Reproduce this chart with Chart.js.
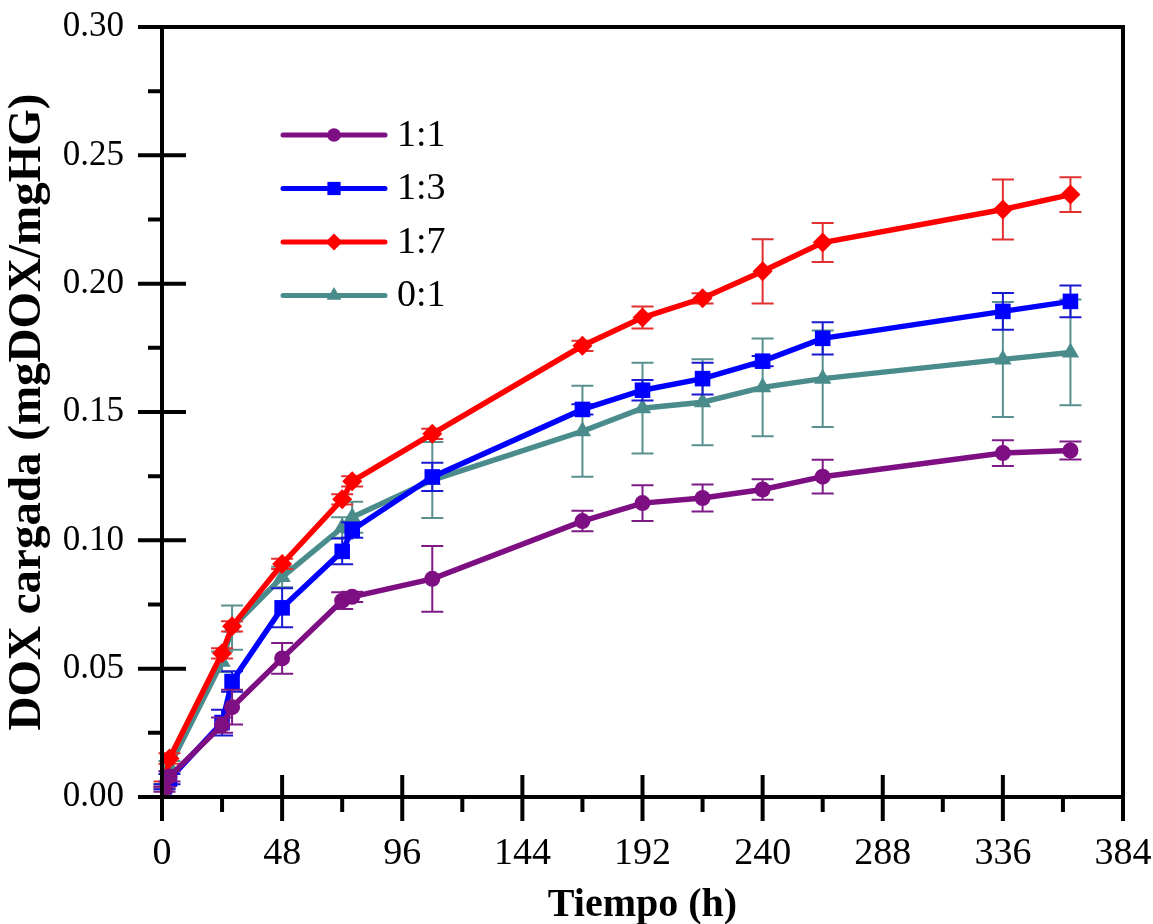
<!DOCTYPE html>
<html>
<head>
<meta charset="utf-8">
<title>DOX cargada</title>
<script src="https://cdn.jsdelivr.net/npm/chart.js@4.4.1/dist/chart.umd.min.js"></script>
<style>
  html, body { margin: 0; padding: 0; background: #fff; }
  #chart { display: block; }
</style>
</head>
<body>
<canvas id="chart" width="1153" height="924"></canvas>
<script>
// Loading time points (h), shared by every ratio
const tiempo = [1, 3, 24, 28, 48, 72, 76, 108, 168, 192, 216, 240, 264, 336, 363];

// DOX loaded (mg DOX / mg HG) and standard deviation per ratio
const ratio11 = [0.003, 0.008, 0.028, 0.035, 0.054, 0.0765, 0.078, 0.085, 0.1075, 0.1145, 0.1165, 0.1198, 0.1248, 0.134, 0.135];
const err11 = [0.001, 0.002, 0.003, 0.0068, 0.006, 0.0033, 0.002, 0.0128, 0.004, 0.007, 0.0053, 0.004, 0.0066, 0.005, 0.0035];

const ratio13 = [0.004, 0.007, 0.029, 0.045, 0.0737, 0.0957, 0.104, 0.1247, 0.151, 0.1585, 0.163, 0.1698, 0.1787, 0.1892, 0.1931];
const err13 = [0.001, 0.002, 0.005, 0.004, 0.0076, 0.005, 0.003, 0.0055, 0.002, 0.004, 0.0062, 0.002, 0.0063, 0.0072, 0.0062];

const ratio17 = [0.005, 0.015, 0.056, 0.0665, 0.0908, 0.116, 0.123, 0.1415, 0.1758, 0.1868, 0.1943, 0.2048, 0.216, 0.2289, 0.2347];
const err17 = [0.001, 0.002, 0.002, 0.002, 0.002, 0.002, 0.002, 0.002, 0.002, 0.0043, 0.002, 0.0125, 0.0076, 0.0117, 0.0068];

const ratio01 = [0.004, 0.012, 0.0527, 0.066, 0.0857, 0.105, 0.109, 0.1235, 0.1425, 0.1515, 0.1538, 0.1596, 0.163, 0.1705, 0.1732];
const err01 = [0.001, 0.002, 0.004, 0.0086, 0.004, 0.004, 0.006, 0.0148, 0.0177, 0.0177, 0.0168, 0.019, 0.0188, 0.0224, 0.0206];

const seriesLabels = ['1:1', '1:3', '1:7', '0:1'];
const xTicks = [0, 48, 96, 144, 192, 240, 288, 336, 384];
const yTicks = [0, 0.05, 0.10, 0.15, 0.20, 0.25, 0.30];

const SERIF = "'Liberation Serif', 'Times New Roman', serif";

function points(values) {
  return values.map((v, i) => ({ x: tiempo[i], y: v }));
}

function makeSeries(label, values, errors, color, errColor, style, radius) {
  return {
    label,
    data: points(values),
    errors,
    errColor,
    borderColor: color,
    backgroundColor: color,
    borderWidth: 5.5,
    pointStyle: style,
    pointRadius: radius,
    pointBorderWidth: 0,
    pointHoverRadius: radius,
    tension: 0
  };
}

// vertical error bars with caps, drawn under each dataset's line
const errorBars = {
  id: 'errorBars',
  beforeDatasetDraw(chart, args) {
    const ds = chart.data.datasets[args.index];
    if (!ds.errors) return;
    const { ctx, scales: { x, y } } = chart;
    ctx.save();
    ctx.strokeStyle = ds.errColor;
    ctx.lineWidth = 2;
    ds.data.forEach((p, i) => {
      const e = ds.errors[i];
      const px = x.getPixelForValue(p.x);
      const top = y.getPixelForValue(p.y + e);
      const bot = y.getPixelForValue(p.y - e);
      ctx.beginPath();
      ctx.moveTo(px, top); ctx.lineTo(px, bot);
      ctx.moveTo(px - 11, top); ctx.lineTo(px + 11, top);
      ctx.moveTo(px - 11, bot); ctx.lineTo(px + 11, bot);
      ctx.stroke();
    });
    ctx.restore();
  }
};

// closed frame plus major ticks (crossing) and minor ticks (outside)
const frameTicks = {
  id: 'frameTicks',
  afterDraw(chart) {
    const { ctx, chartArea: a, scales: { x, y } } = chart;
    ctx.save();
    ctx.strokeStyle = '#000';
    ctx.lineWidth = 4;
    ctx.strokeRect(a.left, a.top, a.right - a.left, a.bottom - a.top);
    ctx.beginPath();
    xTicks.forEach((t, i) => {
      const px = x.getPixelForValue(t);
      ctx.moveTo(px, a.bottom - 22); ctx.lineTo(px, a.bottom + 24);
      if (i > 0) {
        const mx = x.getPixelForValue((t + xTicks[i - 1]) / 2);
        ctx.moveTo(mx, a.bottom); ctx.lineTo(mx, a.bottom + 15);
      }
    });
    yTicks.forEach((t, i) => {
      const py = y.getPixelForValue(t);
      ctx.moveTo(a.left - 24, py); ctx.lineTo(a.left + 24, py);
      if (i > 0) {
        const my = y.getPixelForValue((t + yTicks[i - 1]) / 2);
        ctx.moveTo(a.left - 14, my); ctx.lineTo(a.left, my);
      }
    });
    ctx.stroke();
    ctx.restore();
  }
};

// legend box: line segment with the marker in the middle, then the label
const lineLegend = {
  id: 'lineLegend',
  afterDraw(chart) {
    const ctx = chart.ctx;
    const x0 = 283, x1 = 385, rowTop = 135, rowGap = 53.5;
    ctx.save();
    chart.data.datasets.forEach((ds, i) => {
      const yy = rowTop + i * rowGap;
      ctx.strokeStyle = ds.borderColor;
      ctx.lineWidth = 5;
      ctx.lineCap = 'round';
      ctx.beginPath();
      ctx.moveTo(x0, yy); ctx.lineTo(x1, yy);
      ctx.stroke();
      ctx.fillStyle = ds.backgroundColor;
      Chart.helpers.drawPoint(ctx, {
        pointStyle: ds.pointStyle, radius: ds.pointRadius * 0.85, rotation: 0, borderWidth: 0
      }, (x0 + x1) / 2, yy);
      ctx.fillStyle = '#000';
      ctx.font = '38px ' + SERIF;
      ctx.textBaseline = 'middle';
      ctx.fillText(ds.label, x1 + 12, yy + 1);
    });
    ctx.restore();
  }
};

// keep the plot box where the layout padding puts it
function noLabelPadding(scale) {
  scale.paddingLeft = 0;
  scale.paddingRight = 0;
  scale.paddingTop = 0;
  scale.paddingBottom = 0;
}

Chart.defaults.color = '#000';
Chart.defaults.font.family = SERIF;

new Chart(document.getElementById('chart'), {
  type: 'line',
  data: {
    datasets: [
      makeSeries(seriesLabels[0], ratio11, err11, '#7d0f82', '#7d1a85', 'circle', 8),
      makeSeries(seriesLabels[1], ratio13, err13, '#0000ff', '#1a1ad0', 'rect', 11),
      makeSeries(seriesLabels[2], ratio17, err17, '#ff0000', '#e03030', 'rectRot', 10),
      makeSeries(seriesLabels[3], ratio01, err01, '#4a8c8c', '#5a9090', 'triangle', 10)
    ]
  },
  options: {
    responsive: false,
    animation: false,
    layout: { padding: { top: 27, right: 30, left: 0, bottom: 0 } },
    plugins: {
      legend: { display: false },
      tooltip: { enabled: false }
    },
    scales: {
      x: {
        type: 'linear',
        min: 0,
        max: 384,
        afterBuildTicks: scale => { scale.ticks = xTicks.map(v => ({ value: v })); },
        grid: { display: false, drawTicks: false },
        border: { display: false },
        ticks: { padding: 34, font: { size: 38 }, maxRotation: 0 },
        title: {
          display: true,
          text: 'Tiempo (h)',
          font: { size: 40, weight: 'bold', lineHeight: 0.9 },
          padding: { top: 0, bottom: 0 }
        },
        afterFit: scale => { scale.height = 127; noLabelPadding(scale); }
      },
      y: {
        min: 0,
        max: 0.30,
        afterBuildTicks: scale => { scale.ticks = yTicks.map(v => ({ value: v })); },
        grid: { display: false, drawTicks: false },
        border: { display: false },
        ticks: { padding: 38, font: { size: 35 }, callback: v => v.toFixed(2) },
        title: {
          display: true,
          text: 'DOX cargada (mgDOX/mgHG)',
          font: { size: 47, weight: 'bold', lineHeight: 1.1 },
          padding: { top: 2, bottom: 0 }
        },
        afterFit: scale => { scale.width = 162; noLabelPadding(scale); }
      }
    }
  },
  plugins: [errorBars, frameTicks, lineLegend]
});
</script>
</body>
</html>
